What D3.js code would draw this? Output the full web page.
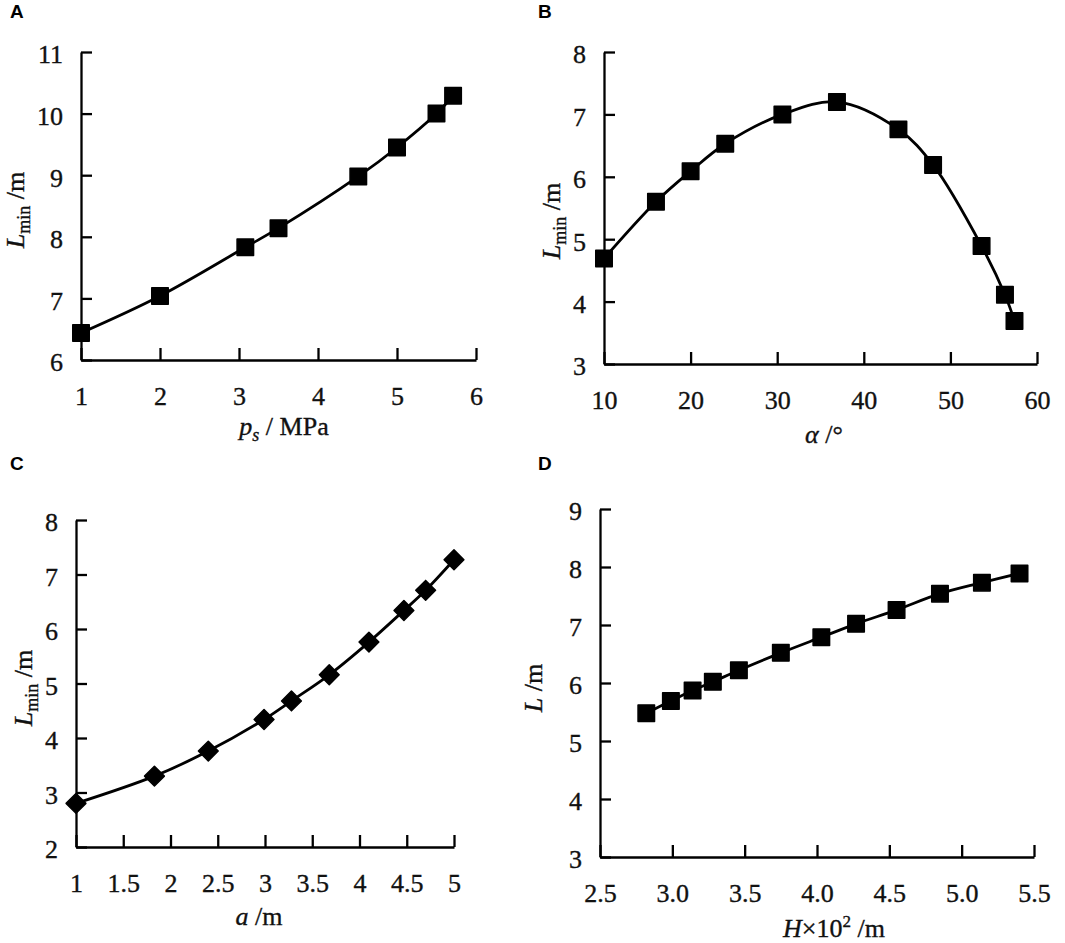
<!DOCTYPE html>
<html>
<head>
<meta charset="utf-8">
<script src="https://cdn.jsdelivr.net/npm/d3@7"></script>
<style>
  html, body { margin: 0; padding: 0; background: #fff; }
  svg { display: block; }
</style>
</head>
<body>
<svg id="fig" width="1065" height="943"></svg>
<script>
// --- Data
const aX = [1, 2, 3.08, 3.5, 4.51, 5.0, 5.5, 5.71];
const aY = [6.44, 7.04, 7.83, 8.14, 8.98, 9.45, 10.0, 10.29];
const aXTicks = [1, 2, 3, 4, 5, 6];
const aYTicks = [6, 7, 8, 9, 10, 11];

const bX = [10, 16, 20, 24, 30.6, 36.9, 44, 48, 53.6, 56.3, 57.4];
const bY = [4.69, 5.6, 6.09, 6.53, 7.0, 7.2, 6.76, 6.19, 4.89, 4.11, 3.69];
const bXTicks = [10, 20, 30, 40, 50, 60];
const bYTicks = [3, 4, 5, 6, 7, 8];

const cX = [1, 1.83, 2.4, 2.99, 3.28, 3.68, 4.1, 4.47, 4.7, 5.0];
const cY = [2.8, 3.3, 3.76, 4.34, 4.68, 5.16, 5.76, 6.34, 6.71, 7.27];
const cXTicks = [1, 1.5, 2, 2.5, 3, 3.5, 4, 4.5, 5];
const cYTicks = [2, 3, 4, 5, 6, 7, 8];

const dX = [2.82, 2.99, 3.14, 3.28, 3.46, 3.75, 4.03, 4.27, 4.55, 4.85, 5.14, 5.4];
const dY = [5.48, 5.69, 5.87, 6.02, 6.22, 6.52, 6.79, 7.02, 7.26, 7.54, 7.73, 7.89];
const dXTicks = [2.5, 3.0, 3.5, 4.0, 4.5, 5.0, 5.5];
const dYTicks = [3, 4, 5, 6, 7, 8, 9];

const SERIF = '"Liberation Serif", "Times New Roman", serif';
const SANS = '"Liberation Sans", Arial, sans-serif';

const svg = d3.select('#fig');

// --- Panels (layout in px)
const panels = [
  { id: 'A', xs: aX, ys: aY, xt: aXTicks, yt: aYTicks, xr: [81, 476], yr: [360, 52],
    fmt: d3.format('d'), marker: 'square', tag: [10, 18],
    yl: { x: 24, y: 210, parts: [['L', 'i'], ['min', 'sub'], [' /m', '']] },
    xl: { x: 284, y: 435, parts: [['p', 'i'], ['s', 'isub'], [' / MPa', '']] } },
  { id: 'B', xs: bX, ys: bY, xt: bXTicks, yt: bYTicks, xr: [604, 1037], yr: [364, 52],
    fmt: d3.format('d'), marker: 'square', tag: [538, 18],
    yl: { x: 560, y: 221, parts: [['L', 'i'], ['min', 'sub'], [' /m', '']] },
    xl: { x: 824, y: 443, parts: [['α', 'i'], [' /°', '']] } },
  { id: 'C', xs: cX, ys: cY, xt: cXTicks, yt: cYTicks, xr: [76, 454], yr: [847, 520],
    fmt: d => String(d), marker: 'diamond', tag: [10, 470],
    yl: { x: 32, y: 688, parts: [['L', 'i'], ['min', 'sub'], [' /m', '']] },
    xl: { x: 259, y: 925, parts: [['a', 'i'], [' /m', '']] } },
  { id: 'D', xs: dX, ys: dY, xt: dXTicks, yt: dYTicks, xr: [600, 1034], yr: [857, 509],
    fmt: d3.format('.1f'), marker: 'square', tag: [538, 470],
    yl: { x: 542, y: 688, parts: [['L', 'i'], [' /m', '']] },
    xl: { x: 834, y: 937, parts: [['H', 'i'], ['×10', ''], ['2', 'sup'], [' /m', '']] } }
];

function addParts(text, parts) {
  let shift = 0;
  parts.forEach(([s, kind]) => {
    const t = text.append('tspan').text(s);
    if (kind === 'i' || kind === 'isub') t.attr('font-style', 'italic');
    let want = 0;
    if (kind === 'sub' || kind === 'isub') { t.attr('font-size', 18); want = 6; }
    if (kind === 'sup') { t.attr('font-size', 17); want = -10; }
    if (want !== shift) { t.attr('dy', want - shift); shift = want; }
  });
}

// serif text a touch heavier, like the scanned original
const heavy = sel => sel.attr('fill', '#111').attr('stroke', '#111').attr('stroke-width', 0.35);

panels.forEach(p => {
  const x = d3.scaleLinear().domain(d3.extent(p.xt)).range(p.xr);
  const y = d3.scaleLinear().domain(d3.extent(p.yt)).range(p.yr);
  const g = svg.append('g');

  // axes, ticks pointing inward
  const gx = g.append('g').attr('transform', `translate(0,${p.yr[0]})`)
    .call(d3.axisBottom(x).tickValues(p.xt).tickFormat(p.fmt).tickSizeInner(-12).tickSizeOuter(0).tickPadding(27));
  const gy = g.append('g').attr('transform', `translate(${p.xr[0]},0)`)
    .call(d3.axisLeft(y).tickValues(p.yt).tickFormat(d3.format('d')).tickSizeInner(-11).tickSizeOuter(0).tickPadding(18));
  [gx, gy].forEach(a => {
    a.attr('font-family', SERIF).attr('font-size', 26);
    a.select('.domain').attr('stroke', '#000').attr('stroke-width', 2.3);
    a.selectAll('.tick line').attr('stroke', '#000').attr('stroke-width', 2.3);
    heavy(a.selectAll('.tick text').attr('font-family', SERIF).attr('font-size', 26));
  });
  gy.selectAll('.tick text').attr('dy', '0.42em');

  // smooth line
  const pts = p.xs.map((v, i) => [v, p.ys[i]]);
  g.append('path')
    .attr('d', d3.line().x(d => x(d[0])).y(d => y(d[1])).curve(d3.curveCatmullRom.alpha(0.5))(pts))
    .attr('fill', 'none').attr('stroke', '#000').attr('stroke-width', 2.8);

  // markers
  const sym = p.marker === 'diamond'
    ? d3.symbol(d3.symbolSquare, 196)
    : d3.symbol(d3.symbolSquare, 272);
  g.append('g').selectAll('path').data(pts).join('path')
    .attr('d', sym)
    .attr('transform', d => `translate(${x(d[0])},${y(d[1])})` + (p.marker === 'diamond' ? ' rotate(45)' : ''))
    .attr('fill', '#000').attr('stroke', '#000').attr('stroke-width', 1.5).attr('stroke-linejoin', 'round');

  // axis titles
  const yt = heavy(g.append('text').attr('font-family', SERIF).attr('font-size', 26)
    .attr('text-anchor', 'middle')
    .attr('transform', `translate(${p.yl.x},${p.yl.y}) rotate(-90)`));
  addParts(yt, p.yl.parts);
  const xt = heavy(g.append('text').attr('font-family', SERIF).attr('font-size', 26)
    .attr('text-anchor', 'middle')
    .attr('x', p.xl.x).attr('y', p.xl.y));
  addParts(xt, p.xl.parts);

  // panel tag
  g.append('text').attr('font-family', SANS).attr('font-weight', 'bold').attr('font-size', 19)
    .attr('x', p.tag[0]).attr('y', p.tag[1]).text(p.id);
});
</script>
</body>
</html>
